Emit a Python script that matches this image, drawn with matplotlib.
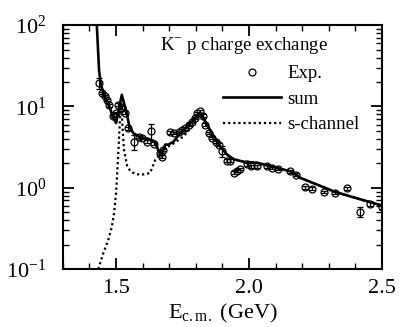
import numpy as np
import matplotlib.pyplot as plt
from matplotlib.ticker import FixedLocator, LogLocator, NullFormatter

plt.rcParams['font.family'] = ['Liberation Serif', 'DejaVu Serif']
plt.rcParams['mathtext.fontset'] = 'stix'

# measured cross sections
exp_x = [1.437, 1.448, 1.458, 1.465, 1.475, 1.488, 1.500, 1.509, 1.524, 1.534,
         1.546, 1.569, 1.588, 1.597, 1.616, 1.631, 1.641, 1.666, 1.672, 1.678,
         1.704, 1.716, 1.735, 1.748, 1.760, 1.773, 1.786, 1.798, 1.805, 1.817,
         1.827, 1.836, 1.848, 1.861, 1.874, 1.886, 1.899, 1.918, 1.928, 1.943,
         1.955, 1.965, 1.991, 2.008, 2.031, 2.066, 2.085, 2.109, 2.154, 2.175,
         2.209, 2.238, 2.280, 2.324, 2.370, 2.417, 2.455, 2.500]
exp_y = [19.5, 14.6, 13.5, 12.1, 10.3, 7.7, 8.3, 10.5, 9.6, 8.4,
         5.4, 3.7, 4.2, 4.1, 3.7, 5.0, 3.5, 2.7, 2.4, 2.9,
         4.8, 4.7, 4.9, 5.2, 5.4, 6.0, 6.5, 7.2, 8.3, 8.7,
         7.7, 6.0, 4.7, 4.1, 3.7, 3.4, 2.85, 2.15, 2.15, 1.54,
         1.63, 1.70, 1.95, 1.83, 1.83, 1.83, 1.75, 1.70, 1.59, 1.45,
         1.02, 0.97, 0.885, 0.875, 0.99, 0.51, 0.63, 0.58]
exp_err = [3.0, 0.5, 0.5, 0.4, 0.4, 0.3, 0.3, 0.4, 0.4, 0.3,
           0.2, 0.8, 0.15, 0.15, 0.15, 1.1, 0.15, 0.1, 0.1, 0.1,
           0.15, 0.15, 0.15, 0.15, 0.2, 0.2, 0.2, 0.25, 0.3, 0.3,
           0.3, 0.2, 0.15, 0.15, 0.15, 0.12, 0.45, 0.08, 0.08, 0.06,
           0.06, 0.06, 0.07, 0.06, 0.06, 0.06, 0.06, 0.06, 0.05, 0.05,
           0.04, 0.04, 0.03, 0.03, 0.04, 0.07, 0.03, 0.03]

# model: sum
sum_x = [1.425, 1.436, 1.443, 1.458, 1.477, 1.4875, 1.500, 1.5215, 1.540, 1.550,
         1.565, 1.591, 1.622, 1.647, 1.660, 1.669, 1.685, 1.697, 1.716, 1.7415,
         1.767, 1.792, 1.811, 1.817, 1.842, 1.867, 1.892, 1.918, 1.943, 1.980,
         2.031, 2.069, 2.119, 2.157, 2.194, 2.257, 2.320, 2.383, 2.446, 2.503]
sum_y = [150, 28, 18.5, 13.1, 9.6, 7.5, 6.25, 13.9, 8.3, 5.7,
         4.7, 4.2, 4.0, 3.7, 2.8, 2.55, 3.4, 3.4, 3.7, 4.7,
         5.7, 6.9, 8.2, 8.3, 6.0, 4.3, 3.2, 2.55, 2.24, 2.09,
         2.03, 1.89, 1.71, 1.59, 1.32, 1.09, 0.90, 0.78, 0.68, 0.60]

# model: s-channel only
s_x = [1.433, 1.452, 1.471, 1.484, 1.4925, 1.500, 1.505, 1.509, 1.515, 1.520,
       1.525, 1.530, 1.542, 1.555, 1.575, 1.597, 1.628, 1.647, 1.672, 1.685,
       1.716, 1.754, 1.780, 1.800, 1.817, 1.842, 1.867, 1.892, 1.918, 1.943,
       1.980, 2.031, 2.069, 2.119, 2.157, 2.194, 2.257, 2.320, 2.383, 2.446,
       2.503]
s_y = [0.10, 0.157, 0.23, 0.33, 0.49, 0.86, 1.66, 2.93, 7.5, 11.0,
       5.0, 2.9, 1.83, 1.59, 1.47, 1.45, 1.52, 2.2, 2.75, 3.08,
       3.5, 4.3, 5.4, 6.8, 8.2, 6.0, 4.3, 3.2, 2.55, 2.24,
       2.09, 2.03, 1.89, 1.71, 1.59, 1.32, 1.09, 0.90, 0.78, 0.68,
       0.60]

fig = plt.figure(figsize=(4.03, 3.27), dpi=100)
ax = fig.add_axes([0.156, 0.177, 0.792, 0.746])

ax.errorbar(exp_x, exp_y, yerr=exp_err, fmt='none', ecolor='black',
            elinewidth=0.9, capsize=2, capthick=0.9, zorder=3)
h_exp, = ax.plot(exp_x, exp_y, 'o', ms=5, mfc='none', mec='black', mew=0.9,
                 label='Exp.', zorder=3)
h_sum, = ax.plot(sum_x, sum_y, color='black', lw=1.9, label='sum', zorder=2)
h_s, = ax.plot(s_x, s_y, color='black', lw=1.6, ls=(0, (1, 1.3)),
               label='s-channel', zorder=1)

ax.set_yscale('log')
ax.set_xlim(1.3, 2.5)
ax.set_ylim(0.1, 100)

ax.xaxis.set_major_locator(FixedLocator([1.5, 2.0, 2.5]))
ax.xaxis.set_minor_locator(FixedLocator(np.arange(1.3, 2.51, 0.1)))
ax.set_xticklabels(['1.5', '2.0', '2.5'])
ax.yaxis.set_major_locator(LogLocator(base=10))
ax.yaxis.set_minor_locator(LogLocator(base=10, subs=np.arange(2, 10)))
ax.yaxis.set_minor_formatter(NullFormatter())

ax.tick_params(which='both', direction='in', top=True, right=True, labelsize=16)
ax.tick_params(which='major', length=8, width=1.3)
ax.tick_params(which='minor', length=4.5, width=1.0)
ax.tick_params(axis='y', pad=12)
ax.tick_params(axis='x', pad=7)
for s in ax.spines.values():
    s.set_linewidth(1.5)

ax.set_xlabel(r'E$_{\mathregular{c.m.}}$ (GeV)', fontsize=16, labelpad=3)

fig.text(160 / 403, 1 - 45 / 327, 'K$^{\\mathregular{-}}$ p charge exchange',
         fontsize=13.5, ha='left', va='center')
ax.legend(handles=[h_exp, h_sum, h_s], loc='upper left',
          bbox_to_anchor=(223 / 403, 1 - 65 / 327),
          bbox_transform=fig.transFigure, frameon=False, fontsize=13.5,
          handlelength=3.1, handletextpad=0.35, labelspacing=0.45,
          borderpad=0, borderaxespad=0)

fig.savefig('out.png', dpi=100)
